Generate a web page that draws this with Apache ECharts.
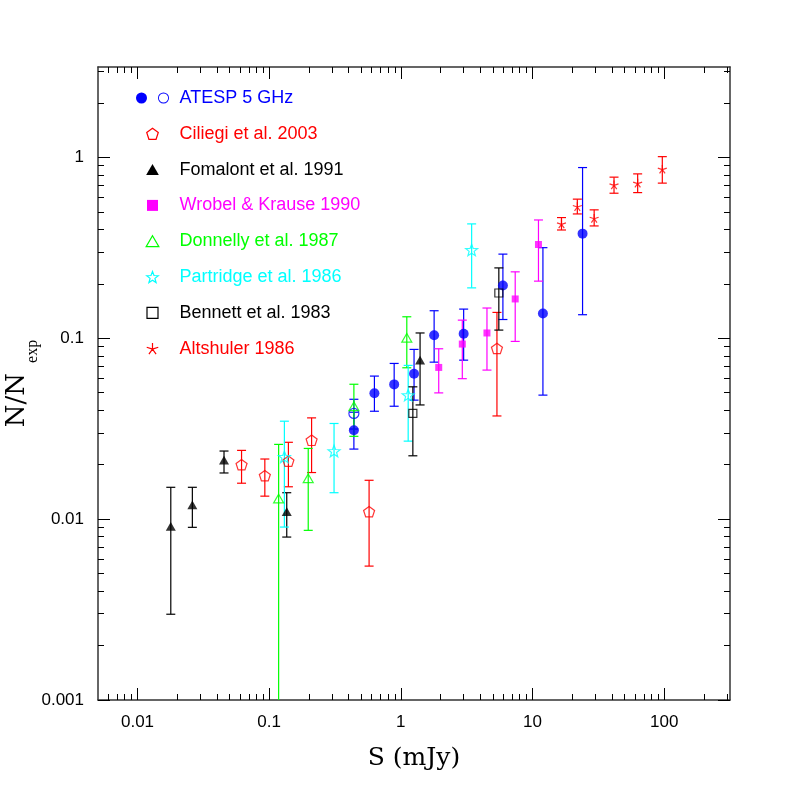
<!DOCTYPE html>
<html>
<head>
<meta charset="utf-8">
<script src="https://cdn.jsdelivr.net/npm/echarts@6/dist/echarts.min.js"></script>
<style>
  html, body { margin: 0; padding: 0; background: #fff; }
  #container { width: 797px; height: 797px; }
</style>
</head>
<body>
<div id="container"></div>
<script>
// tick labels
var xMajor = [0.01, 0.1, 1, 10, 100];
var yMajor = [0.001, 0.01, 0.1, 1];

// ATESP 5 GHz (filled)
var atespS  = [0.44, 0.63, 0.89, 1.26, 1.79, 3.0, 5.96, 12.0, 24.0];
var atespR  = [0.031, 0.0497, 0.0556, 0.0636, 0.104, 0.106, 0.196, 0.137, 0.379];
var atespLo = [0.0244, 0.0395, 0.0421, 0.0455, 0.0738, 0.0757, 0.127, 0.0485, 0.135];
var atespHi = [0.039, 0.0618, 0.0726, 0.0868, 0.142, 0.145, 0.292, 0.317, 0.879];
// ATESP 5 GHz (open)
var atespOpenS  = [0.44];
var atespOpenR  = [0.0384];
var atespOpenLo = [0.0315];
var atespOpenHi = [0.046];
// Ciliegi et al. 2003
var cilS  = [0.0617, 0.0927, 0.140, 0.210, 0.574, 5.37];
var cilR  = [0.0200, 0.0174, 0.0209, 0.0273, 0.0110, 0.0879];
var cilLo = [0.0158, 0.0134, 0.0151, 0.0181, 0.0055, 0.0372];
var cilHi = [0.0240, 0.0215, 0.0266, 0.0363, 0.0164, 0.139];
// Fomalont et al. 1991
var fomS  = [0.0179, 0.0261, 0.0454, 0.136, 1.40];
var fomR  = [0.00912, 0.0120, 0.0212, 0.0110, 0.0757];
var fomLo = [0.00298, 0.00901, 0.0180, 0.00796, 0.0428];
var fomHi = [0.0150, 0.0150, 0.0238, 0.0140, 0.107];
// Wrobel & Krause 1990
var wroS  = [1.94, 2.93, 4.51, 7.39, 11.1];
var wroR  = [0.0690, 0.0929, 0.107, 0.165, 0.330];
var wroLo = [0.0499, 0.0598, 0.0667, 0.0961, 0.207];
var wroHi = [0.0875, 0.126, 0.147, 0.233, 0.451];
// Donnelly et al. 1987
var donS  = [0.118, 0.198, 0.440, 1.11];
var donR  = [0.0130, 0.0168, 0.0421, 0.1006];
var donLo = [0.0005, 0.00867, 0.0287, 0.0687];
var donHi = [0.0259, 0.0246, 0.0557, 0.1315];
// Partridge et al. 1986
var parS  = [0.1305, 0.311, 1.137, 3.45];
var parR  = [0.0221, 0.0238, 0.0485, 0.308];
var parLo = [0.00904, 0.0140, 0.0270, 0.190];
var parHi = [0.0348, 0.0338, 0.0708, 0.429];
// Bennett et al. 1983
var benS  = [1.234, 5.55];
var benR  = [0.0384, 0.178];
var benLo = [0.0224, 0.111];
var benHi = [0.0539, 0.245];
// Altshuler 1986
var altS  = [16.6, 21.9, 29.4, 41.6, 62.9, 96.8];
var altR  = [0.429, 0.535, 0.461, 0.705, 0.721, 0.861];
var altLo = [0.397, 0.487, 0.418, 0.634, 0.639, 0.721];
var altHi = [0.465, 0.588, 0.513, 0.778, 0.811, 1.01];

var xMin = Math.pow(10, -2.3), xMax = Math.pow(10, 2.5);
var yMin = 0.001, yMax = Math.pow(10, 0.5);

// symbols
var P_PENTA = 'path://M0,-10L9.51,-3.09L5.88,8.09L-5.88,8.09L-9.51,-3.09Z';
var P_TRI = 'path://M0,-10L8.66,5L-8.66,5Z';
var P_SQ = 'path://M0,0L10,0L10,10L0,10Z';
var P_STAR = 'path://M0,-10L2.47,-3.4L9.51,-3.09L3.99,1.3L5.88,8.09L0,4.2L-5.88,8.09L-3.99,1.3L-9.51,-3.09L-2.47,-3.4Z';
var P_AST = 'path://M0,-10L0,0M9.51,-3.09L0,0M5.88,8.09L0,0M-5.88,8.09L0,0M-9.51,-3.09L0,0';
var P_ATESP = 'path://M-5,0A5,5,0,1,1,5,0A5,5,0,1,1,-5,0ZM15,0A5,5,0,1,1,25,0A5,5,0,1,1,15,0ZM15.8,0A4.2,4.2,0,1,0,24.2,0A4.2,4.2,0,1,0,15.8,0Z';

function minorTicks(lo, hi) {
    var out = [];
    for (var e = -4; e <= 3; e++) {
        for (var m = 2; m <= 9; m++) {
            var v = parseFloat((m * Math.pow(10, e)).toPrecision(6));
            if (v >= lo && v <= hi) out.push(v);
        }
    }
    return out;
}

var series = [];
var legendData = [];

function addGroup(name, S, R, Lo, Hi, color, symbol, size, hollow) {
    var pts = [], bars = [];
    for (var i = 0; i < S.length; i++) {
        pts.push([S[i], R[i]]);
        bars.push([S[i], Lo[i], Hi[i]]);
    }
    // error bars
    series.push({
        name: name,
        type: 'custom',
        clip: true,
        z: 2,
        data: bars,
        encode: {x: 0, y: [1, 2]},
        renderItem: function (params, api) {
            var x = api.value(0);
            var top = api.coord([x, api.value(2)]);
            var bot = api.coord([x, api.value(1)]);
            var w = 4.5;
            var st = {stroke: color, lineWidth: 1.2, fill: null};
            return {
                type: 'group',
                children: [
                    {type: 'line', shape: {x1: top[0], y1: top[1], x2: bot[0], y2: bot[1]}, style: st},
                    {type: 'line', shape: {x1: top[0] - w, y1: top[1], x2: top[0] + w, y2: top[1]}, style: st},
                    {type: 'line', shape: {x1: bot[0] - w, y1: bot[1], x2: bot[0] + w, y2: bot[1]}, style: st}
                ]
            };
        }
    });
    series.push({
        name: name,
        type: 'scatter',
        z: 3,
        symbol: symbol,
        symbolSize: size,
        symbolKeepAspect: true,
        data: pts,
        itemStyle: hollow
            ? {color: 'rgba(0,0,0,0)', borderColor: color, borderWidth: 1.2}
            : {color: color, borderWidth: 0}
    });
}

addGroup('ATESP 5 GHz', atespS, atespR, atespLo, atespHi, '#0000ff', 'circle', 10, false);
addGroup('ATESP open', atespOpenS, atespOpenR, atespOpenLo, atespOpenHi, '#0000ff', 'circle', 10, true);
addGroup('Ciliegi et al. 2003', cilS, cilR, cilLo, cilHi, '#ff0000', P_PENTA, 11, true);
addGroup('Fomalont et al. 1991', fomS, fomR, fomLo, fomHi, '#000000', P_TRI, 10, false);
addGroup('Wrobel & Krause 1990', wroS, wroR, wroLo, wroHi, '#ff00ff', P_SQ, 7, false);
addGroup('Donnelly et al. 1987', donS, donR, donLo, donHi, '#00ff00', P_TRI, 10, true);
addGroup('Partridge et al. 1986', parS, parR, parLo, parHi, '#00ffff', P_STAR, 12, true);
addGroup('Bennett et al. 1983', benS, benR, benLo, benHi, '#000000', P_SQ, 8, true);
addGroup('Altshuler 1986', altS, altR, altLo, altHi, '#ff0000', P_AST, 9, true);

function legendItem(name, color, icon, hollow) {
    return {
        name: name,
        icon: icon,
        itemStyle: hollow
            ? {color: 'rgba(0,0,0,0)', borderColor: color, borderWidth: 1.2}
            : {color: color, borderWidth: 0},
        textStyle: {color: color}
    };
}
legendData = [
    legendItem('ATESP 5 GHz', '#0000ff', P_ATESP, false),
    legendItem('Ciliegi et al. 2003', '#ff0000', P_PENTA, true),
    legendItem('Fomalont et al. 1991', '#000000', P_TRI, false),
    legendItem('Wrobel & Krause 1990', '#ff00ff', P_SQ, false),
    legendItem('Donnelly et al. 1987', '#00ff00', P_TRI, true),
    legendItem('Partridge et al. 1986', '#00ffff', P_STAR, true),
    legendItem('Bennett et al. 1983', '#000000', P_SQ, true),
    legendItem('Altshuler 1986', '#ff0000', P_AST, true)
];

var frame = {show: true, onZero: false, lineStyle: {color: '#333', width: 1.5}};
var tickFont = {fontFamily: 'Liberation Sans', fontSize: 17, color: '#000'};

function logAxis(pos, min, max, ticks, len, showLine, labels, extra) {
    var ax = {
        type: 'log',
        logBase: 10,
        position: pos,
        min: min,
        max: max,
        axisLine: showLine ? frame : {show: false},
        axisTick: {show: true, inside: true, length: len, customValues: ticks, lineStyle: {color: '#000', width: 1}},
        axisLabel: labels
            ? Object.assign({show: true, customValues: ticks, formatter: function (v) { return String(v); }}, tickFont)
            : {show: false},
        splitLine: {show: false},
        minorTick: {show: false}
    };
    return Object.assign(ax, extra || {});
}

var xMinor = minorTicks(xMin, xMax);
var yMinor = minorTicks(yMin, yMax);

var dom = document.getElementById('container');
var myChart = echarts.init(dom);
var option = {
    animation: false,
    backgroundColor: '#ffffff',
    grid: {left: 98, top: 67, right: 67, bottom: 97, containLabel: false, outerBoundsMode: 'none'},
    legend: {
        orient: 'vertical',
        left: 136,
        top: 89,
        padding: 0,
        itemWidth: 44,
        itemHeight: 11,
        itemGap: 17.8,
        symbolKeepAspect: true,
        selectedMode: false,
        textStyle: {fontFamily: 'Liberation Sans', fontSize: 18, lineHeight: 16},
        data: legendData
    },
    xAxis: [
        logAxis('bottom', xMin, xMax, xMajor, 12, true, true, {
            name: 'S (mJy)',
            nameLocation: 'middle',
            nameGap: 46,
            nameMoveOverlap: false,
            nameTextStyle: {fontFamily: 'DejaVu Serif', fontSize: 25, color: '#000'}
        }),
        logAxis('bottom', xMin, xMax, xMinor, 6, false, false),
        logAxis('top', xMin, xMax, xMajor, 12, true, false),
        logAxis('top', xMin, xMax, xMinor, 6, false, false)
    ],
    yAxis: [
        logAxis('left', yMin, yMax, yMajor, 12, true, true, {
            name: '{a|N/N}{b|exp}',
            nameLocation: 'middle',
            nameGap: 57,
            nameMoveOverlap: false,
            nameRotate: 90,
            nameTextStyle: {
                rich: {
                    a: {fontFamily: 'DejaVu Serif', fontSize: 26, lineHeight: 48, color: '#000'},
                    b: {fontFamily: 'Liberation Serif', fontSize: 16, lineHeight: 16, verticalAlign: 'bottom', padding: [0, 0, 0, 10], color: '#000'}
                }
            }
        }),
        logAxis('left', yMin, yMax, yMinor, 6, false, false),
        logAxis('right', yMin, yMax, yMajor, 12, true, false),
        logAxis('right', yMin, yMax, yMinor, 6, false, false)
    ],
    series: series
};
// margin of tick labels
option.xAxis[0].axisLabel.margin = 14;
option.yAxis[0].axisLabel.margin = 14;

if (option && typeof option === "object") {
    myChart.setOption(option, true);
}
</script>
</body>
</html>
